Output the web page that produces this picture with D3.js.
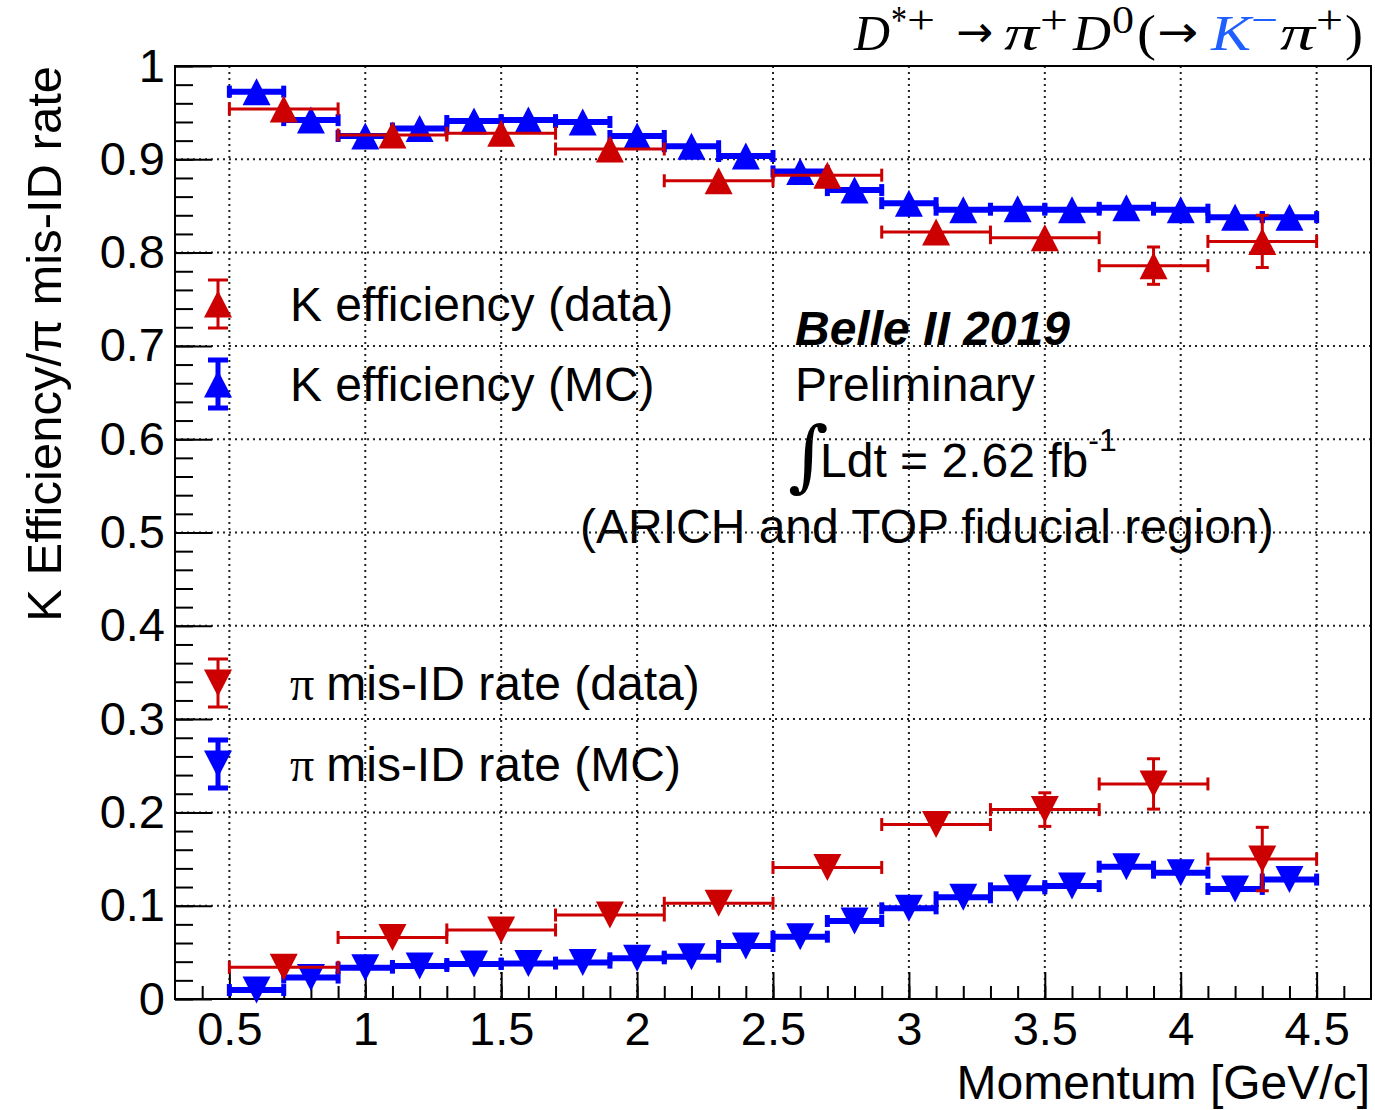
<!DOCTYPE html>
<html>
<head>
<meta charset="utf-8">
<script src="https://d3js.org/d3.v7.min.js"></script>
<style>
  body { margin: 0; background: #fff; }
  text { font-family: "Liberation Sans", Arial, sans-serif; }
</style>
</head>
<body>
<div id="my_dataviz"></div>
<script>

// bin edges
var dataEdges = [0.5, 0.9, 1.3, 1.7, 2.1, 2.5, 2.9, 3.3, 3.7, 4.1, 4.5];
var mcEdges = [0.5, 0.7, 0.9, 1.1, 1.3, 1.5, 1.7, 1.9, 2.1, 2.3, 2.5, 2.7, 2.9, 3.1, 3.3, 3.5, 3.7, 3.9, 4.1, 4.3, 4.5];

// K efficiency
var kEffData    = [0.954, 0.926, 0.928, 0.911, 0.877, 0.883, 0.822, 0.816, 0.786, 0.812];
var kEffDataErr = [0.004, 0.004, 0.004, 0.005, 0.006, 0.007, 0.009, 0.012, 0.020, 0.028];
var kEffMC = [0.9725, 0.942, 0.925, 0.933, 0.941, 0.942, 0.940, 0.925, 0.914, 0.9035,
              0.887, 0.867, 0.853, 0.846, 0.847, 0.846, 0.848, 0.846, 0.838, 0.838];

// pi mis-ID rate
var piMisData    = [0.034, 0.066, 0.074, 0.090, 0.1026, 0.141, 0.187, 0.203, 0.2305, 0.150];
var piMisDataErr = [0.003, 0.004, 0.004, 0.005, 0.006, 0.008, 0.011, 0.018, 0.027, 0.034];
var piMisMC = [0.0096, 0.023, 0.0336, 0.0354, 0.0375, 0.038, 0.039, 0.0436, 0.0454, 0.0568,
               0.0668, 0.0836, 0.0972, 0.109, 0.1186, 0.121, 0.1418, 0.1354, 0.118, 0.128];

// ticks
var xMajor = [0.5, 1, 1.5, 2, 2.5, 3, 3.5, 4, 4.5];
var yMajor = [0, 0.1, 0.2, 0.3, 0.4, 0.5, 0.6, 0.7, 0.8, 0.9, 1];

var red = "#cc0000", blue = "#0000ff", kBlue = "#1f5fff";

var W = 1375, H = 1110;
var pl = 175, pr = 1371, pt = 66, pb = 999;

var svg = d3.select("#my_dataviz")
  .append("svg")
    .attr("width", W)
    .attr("height", H);

var x = d3.scaleLinear().domain([0.3, 4.7]).range([pl, pr]);
var y = d3.scaleLinear().domain([0, 1]).range([pb, pt]);

var fmt = function(d) { return String(+d.toFixed(2)); };

// minor ticks every 0.1 (x) and 0.02 (y)
var xMinor = d3.range(4, 47).map(function(i) { return i / 10; });
var yMinor = d3.range(0, 51).map(function(i) { return i / 50; });

// ---- texts behind grid ----
var txt = svg.append("g");

txt.append("text")
  .attr("x", 795).attr("y", 345)
  .style("font-size", "48px").style("font-weight", "bold").style("font-style", "italic")
  .text("Belle II 2019");

txt.append("text")
  .attr("x", 795).attr("y", 401)
  .style("font-size", "48px")
  .text("Preliminary");

txt.append("text")
  .attr("x", 788).attr("y", 482)
  .style("font-family", "DejaVu Serif")
  .style("font-size", "78px")
  .text("\u222B");

var lum = txt.append("text")
  .attr("x", 820).attr("y", 477)
  .style("font-size", "48px");
lum.append("tspan").text("Ldt = 2.62 fb");
lum.append("tspan").attr("dy", -26).style("font-size", "32px").text("-1");

txt.append("text")
  .attr("x", 580).attr("y", 543)
  .style("font-size", "48px")
  .text("(ARICH and TOP fiducial region)");

// ---- grid ----
var grid = svg.append("g")
  .attr("stroke", "#222")
  .attr("stroke-width", 2)
  .attr("stroke-dasharray", "2,4");

grid.selectAll("line.gx")
  .data(xMajor)
  .enter().append("line")
    .attr("x1", function(d) { return x(d); }).attr("x2", function(d) { return x(d); })
    .attr("y1", pt).attr("y2", pb);

grid.selectAll("line.gy")
  .data(yMajor.filter(function(d) { return d > 0 && d < 1; }))
  .enter().append("line")
    .attr("y1", function(d) { return y(d); }).attr("y2", function(d) { return y(d); })
    .attr("x1", pl).attr("x2", pr);

// ---- axes ----
svg.append("g")
  .attr("transform", "translate(0," + pb + ")")
  .call(d3.axisBottom(x).tickValues(xMinor).tickSize(-13).tickFormat(""))
  .call(function(g) { g.select(".domain").remove(); })
  .selectAll("line").attr("stroke-width", 2);

svg.append("g")
  .attr("transform", "translate(0," + pb + ")")
  .call(d3.axisBottom(x).tickValues(xMajor).tickSize(-27).tickPadding(13).tickFormat(fmt))
  .call(function(g) {
    g.select(".domain").remove();
    g.selectAll("line").attr("stroke-width", 2);
    g.selectAll("text").style("font-size", "47px").attr("fill", "#000")
      .style("font-family", "Liberation Sans, Arial, sans-serif");
  });

svg.append("g")
  .attr("transform", "translate(" + pl + ",0)")
  .call(d3.axisLeft(y).tickValues(yMinor).tickSize(-18).tickFormat(""))
  .call(function(g) { g.select(".domain").remove(); })
  .selectAll("line").attr("stroke-width", 2);

svg.append("g")
  .attr("transform", "translate(" + pl + ",0)")
  .call(d3.axisLeft(y).tickValues(yMajor).tickSize(-37).tickPadding(10).tickFormat(fmt))
  .call(function(g) {
    g.select(".domain").remove();
    g.selectAll("line").attr("stroke-width", 2);
    g.selectAll("text").style("font-size", "47px").attr("fill", "#000")
      .style("font-family", "Liberation Sans, Arial, sans-serif");
  });

// frame
svg.append("rect")
  .attr("x", pl).attr("y", pt)
  .attr("width", pr - pl).attr("height", pb - pt)
  .attr("fill", "none").attr("stroke", "#000").attr("stroke-width", 2);

// axis titles
svg.append("text")
  .attr("text-anchor", "end")
  .attr("x", 1370).attr("y", 1099)
  .style("font-size", "48px")
  .text("Momentum [GeV/c]");

svg.append("text")
  .attr("text-anchor", "end")
  .attr("transform", "translate(61,66) rotate(-90)")
  .style("font-size", "49px")
  .text("K Efficiency/\u03C0 mis-ID rate");

// title: D*+ -> pi+ D0 (-> K- pi+), each glyph placed on its own
var titleParts = [
  {t: "D", x: 854, w: 36, it: 1},
  {t: "*", x: 891, w: 16, sup: 1},
  {t: "+", x: 907, w: 28, sup: 1},
  {t: "\u2192", x: 956, w: 37, arrow: 1},
  {t: "\u03C0", x: 1004, w: 35, it: 1},
  {t: "+", x: 1040, w: 28, sup: 1},
  {t: "D", x: 1073, w: 38, it: 1},
  {t: "0", x: 1112, w: 22, sup: 1},
  {t: "(", x: 1137, w: 19},
  {t: "\u2192", x: 1157, w: 41, arrow: 1},
  {t: "K", x: 1211, w: 40, it: 1, col: kBlue},
  {t: "\u2212", x: 1251, w: 27, sup: 1, col: kBlue},
  {t: "\u03C0", x: 1280, w: 35, it: 1},
  {t: "+", x: 1316, w: 27, sup: 1},
  {t: ")", x: 1345, w: 18}
];

svg.append("g").selectAll("text")
  .data(titleParts)
  .enter().append("text")
    .attr("x", function(d) { return d.x; })
    .attr("y", function(d) { return d.sup ? 33 : (d.arrow ? 47 : 50); })
    .attr("textLength", function(d) { return d.w; })
    .attr("lengthAdjust", "spacingAndGlyphs")
    .style("font-family", function(d) { return d.arrow ? "DejaVu Sans, sans-serif" : "Liberation Serif, serif"; })
    .style("font-size", function(d) { return d.sup ? "40px" : (d.arrow ? "44px" : "50px"); })
    .style("font-style", function(d) { return d.it ? "italic" : "normal"; })
    .attr("fill", function(d) { return d.col || "#000"; })
    .text(function(d) { return d.t; });

// ---- markers ----
var mw = 28, mh = 27;
function tri(up) {
  return up
    ? "M0," + (-mh / 2) + "L" + (mw / 2) + "," + (mh / 2) + "L" + (-mw / 2) + "," + (mh / 2) + "Z"
    : "M0," + (mh / 2) + "L" + (mw / 2) + "," + (-mh / 2) + "L" + (-mw / 2) + "," + (-mh / 2) + "Z";
}

// series: edges, values, errors, color, line width, cap size, up/down
function drawSeries(edges, vals, errs, color, lw, capH, capW, up) {
  var pts = vals.map(function(v, i) {
    return {lo: edges[i], hi: edges[i + 1], v: v, e: errs ? errs[i] : 0};
  });
  var g = svg.append("g");

  // horizontal bars
  g.selectAll("line.h").data(pts).enter().append("line")
    .attr("x1", function(d) { return x(d.lo); })
    .attr("x2", function(d) { return x(d.hi); })
    .attr("y1", function(d) { return y(d.v); })
    .attr("y2", function(d) { return y(d.v); })
    .attr("stroke", color).attr("stroke-width", lw);

  // end caps
  var caps = [];
  pts.forEach(function(d) { caps.push({x: d.lo, v: d.v}); caps.push({x: d.hi, v: d.v}); });
  g.selectAll("rect.c").data(caps).enter().append("rect")
    .attr("x", function(d) { return x(d.x) - capW / 2; })
    .attr("y", function(d) { return y(d.v) - capH / 2; })
    .attr("width", capW).attr("height", capH)
    .attr("fill", color);

  // vertical errors, only where they stick out of the marker
  var big = pts.filter(function(d) { return (y(0) - y(d.e)) > mh / 2; });
  g.selectAll("line.v").data(big).enter().append("line")
    .attr("x1", function(d) { return x((d.lo + d.hi) / 2); })
    .attr("x2", function(d) { return x((d.lo + d.hi) / 2); })
    .attr("y1", function(d) { return y(d.v - d.e); })
    .attr("y2", function(d) { return y(d.v + d.e); })
    .attr("stroke", color).attr("stroke-width", lw);
  var vc = [];
  big.forEach(function(d) { vc.push({c: (d.lo + d.hi) / 2, v: d.v - d.e}); vc.push({c: (d.lo + d.hi) / 2, v: d.v + d.e}); });
  g.selectAll("rect.vc").data(vc).enter().append("rect")
    .attr("x", function(d) { return x(d.c) - capH / 2; })
    .attr("y", function(d) { return y(d.v) - capW / 2; })
    .attr("width", capH).attr("height", capW)
    .attr("fill", color);

  // markers
  g.selectAll("path").data(pts).enter().append("path")
    .attr("d", tri(up))
    .attr("transform", function(d) { return "translate(" + x((d.lo + d.hi) / 2) + "," + y(d.v) + ")"; })
    .attr("fill", color);
}

drawSeries(mcEdges, kEffMC, null, blue, 6, 12, 5, true);
drawSeries(mcEdges, piMisMC, null, blue, 6, 12, 5, false);
drawSeries(dataEdges, kEffData, kEffDataErr, red, 3, 13, 3, true);
drawSeries(dataEdges, piMisData, piMisDataErr, red, 3, 13, 3, false);

// ---- legend ----
var legend = [
  {label: "K efficiency (data)", color: red, up: true, cy: 304, lw: 3},
  {label: "K efficiency (MC)", color: blue, up: true, cy: 384, lw: 5},
  {label: "mis-ID rate (data)", color: red, up: false, cy: 683, lw: 3, pi: true},
  {label: "mis-ID rate (MC)", color: blue, up: false, cy: 764, lw: 5, pi: true}
];

var lg = svg.append("g").selectAll("g").data(legend).enter().append("g")
  .attr("transform", function(d) { return "translate(218," + d.cy + ")"; });

lg.append("line")
  .attr("y1", -24).attr("y2", 24)
  .attr("stroke", function(d) { return d.color; })
  .attr("stroke-width", function(d) { return d.lw; });
lg.append("line")
  .attr("x1", -10).attr("x2", 10).attr("y1", -24).attr("y2", -24)
  .attr("stroke", function(d) { return d.color; })
  .attr("stroke-width", function(d) { return d.lw; });
lg.append("line")
  .attr("x1", -10).attr("x2", 10).attr("y1", 24).attr("y2", 24)
  .attr("stroke", function(d) { return d.color; })
  .attr("stroke-width", function(d) { return d.lw; });
lg.append("path")
  .attr("d", function(d) { return tri(d.up); })
  .attr("fill", function(d) { return d.color; });

var lt = lg.append("text")
  .attr("x", 72).attr("y", 17)
  .style("font-size", "48px");
lt.filter(function(d) { return d.pi; })
  .append("tspan").style("font-family", "Liberation Serif, serif").text("\u03C0 ");
lt.append("tspan").text(function(d) { return d.label; });

</script>
</body>
</html>
